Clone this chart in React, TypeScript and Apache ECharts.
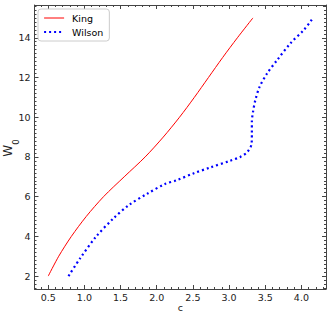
import React, { useEffect, useRef } from "react";
import * as echarts from "echarts";

const kingC = [0.5, 0.645, 0.82, 1.025, 1.265, 1.55, 1.84, 2.09, 2.315, 2.52, 2.715, 2.91, 3.115, 3.33];
const kingW = [2, 3, 4, 5, 6, 7, 8, 9, 10, 11, 12, 13, 14, 15];

const wilsonC = [0.78, 0.94, 1.155, 1.4, 1.62, 1.865, 2.11, 2.278, 2.508, 2.74, 3.017, 3.155, 3.256, 3.312, 3.315, 3.315, 3.331, 3.363, 3.422, 3.525, 3.663, 3.848, 4.032, 4.139, 4.155];
const wilsonW = [2.0, 2.89, 3.96, 4.9, 5.59, 6.14, 6.63, 6.83, 7.17, 7.47, 7.81, 8.0, 8.26, 8.68, 9.19, 9.77, 10.27, 10.86, 11.53, 12.2, 12.87, 13.72, 14.39, 14.89, 15.0];

const xMajor = [0.5, 1.0, 1.5, 2.0, 2.5, 3.0, 3.5, 4.0];
const yMajor = [2, 4, 6, 8, 10, 12, 14];

const X_MIN = 0.31;
const X_MAX = 4.34;
const Y_MIN = 1.35;
const Y_MAX = 15.65;

function minorValues(lo: number, hi: number, step: number, majors: number[]) {
  const out: number[] = [];
  const start = Math.ceil(lo / step - 1e-9);
  const end = Math.floor(hi / step + 1e-9);
  for (let i = start; i <= end; i++) {
    const v = Math.round(i * step * 1000) / 1000;
    if (!majors.some((m) => Math.abs(m - v) < 1e-6)) out.push(v);
  }
  return out;
}

const xMinor = minorValues(X_MIN, X_MAX, 0.1, xMajor);
const yMinor = minorValues(Y_MIN, Y_MAX, 0.2, yMajor);

const FONT = "DejaVu Sans";
const AXIS_COLOR = "#444";

export default function App() {
  const ref = useRef<HTMLDivElement>(null);
  useEffect(() => {
    if (!ref.current) return;
    const chart = echarts.init(ref.current, null, { renderer: "svg" });
    const lineStyle = { color: AXIS_COLOR, width: 1 };
    const mkX = (pos: "bottom" | "top", major: boolean, withLine: boolean, labels: boolean) => ({
      type: "value",
      position: pos,
      min: X_MIN,
      max: X_MAX,
      splitLine: { show: false },
      axisLine: { show: withLine, onZero: false, lineStyle },
      axisTick: {
        show: true,
        inside: true,
        length: major ? 4 : 2,
        customValues: major ? xMajor : xMinor,
        lineStyle,
      },
      axisLabel: labels
        ? {
            show: true,
            customValues: xMajor,
            formatter: (v: number) => v.toFixed(1),
            fontSize: 9.5,
            fontFamily: FONT,
            color: "#222",
            margin: 3,
          }
        : { show: false },
      ...(labels
        ? {
            name: "c",
            nameLocation: "middle",
            nameGap: 13.5,
            nameMoveOverlap: false,
            nameTextStyle: { fontSize: 9.5, fontFamily: FONT, color: "#222" },
          }
        : {}),
    });
    const mkY = (pos: "left" | "right", major: boolean, withLine: boolean, labels: boolean) => ({
      type: "value",
      position: pos,
      min: Y_MIN,
      max: Y_MAX,
      splitLine: { show: false },
      axisLine: { show: withLine, onZero: false, lineStyle },
      axisTick: {
        show: true,
        inside: true,
        length: major ? 4 : 2,
        customValues: major ? yMajor : yMinor,
        lineStyle,
      },
      axisLabel: labels
        ? {
            show: true,
            customValues: yMajor,
            formatter: (v: number) => String(Math.round(v)),
            fontSize: 9.5,
            fontFamily: FONT,
            color: "#222",
            margin: 4,
          }
        : { show: false },
    });

    chart.setOption({
      animation: false,
      backgroundColor: "#fff",
      grid: { left: 34.5, right: 6, top: 5, bottom: 29, containLabel: false, outerBoundsMode: "none" },
      xAxis: [
        mkX("bottom", true, true, true),
        mkX("bottom", false, false, false),
        mkX("top", true, true, false),
        mkX("top", false, false, false),
      ],
      yAxis: [
        mkY("left", true, true, true),
        mkY("left", false, false, false),
        mkY("right", true, true, false),
        mkY("right", false, false, false),
      ],
      graphic: [
        {
          type: "text",
          x: 11,
          y: 148,
          rotation: Math.PI / 2,
          style: {
            text: "{w|W}{s|0}",
            align: "center",
            verticalAlign: "middle",
            fill: "#222",
            font: `12px ${FONT}`,
            rich: {
              w: { fontSize: 12, lineHeight: 14, verticalAlign: "top", fontFamily: FONT, fill: "#222" },
              s: { fontSize: 8.5, lineHeight: 18, verticalAlign: "bottom", fontFamily: FONT, fill: "#222" },
            },
          },
        },
      ],
      legend: {
        left: 38,
        top: 9,
        orient: "vertical",
        itemWidth: 20,
        itemHeight: 8,
        itemGap: 4,
        padding: [4, 6, 4, 5],
        borderColor: "#cccccc",
        borderWidth: 1,
        borderRadius: 3,
        backgroundColor: "rgba(255,255,255,0.8)",
        itemStyle: { color: "rgba(0,0,0,0)", borderColor: "rgba(0,0,0,0)", borderWidth: 0, opacity: 0 },
        lineStyle: { width: "inherit" },
        textStyle: { fontSize: 9.5, fontFamily: FONT, color: "#000", padding: [0, 0, 0, 3] },
        data: ["King", "Wilson"],
      },
      series: [
        {
          name: "King",
          type: "line",
          xAxisIndex: 0,
          yAxisIndex: 0,
          data: kingC.map((c, i) => [c, kingW[i]]),
          symbol: "none",
          smooth: 0.3,
          lineStyle: { color: "#ff0000", width: 1 },
          itemStyle: { color: "#ff0000" },
        },
        {
          name: "Wilson",
          type: "line",
          xAxisIndex: 0,
          yAxisIndex: 0,
          data: wilsonC.map((c, i) => [c, wilsonW[i]]),
          symbol: "none",
          smooth: 0.3,
          lineStyle: { color: "#0000ff", width: 2.2, type: [2, 3] },
          itemStyle: { color: "#0000ff" },
        },
      ],
    });
    return () => chart.dispose();
  }, []);
  return (
    <div
      ref={ref}
      style={{ position: "fixed", left: 0, top: 0, width: 332, height: 318, background: "#fff" }}
    />
  );
}
